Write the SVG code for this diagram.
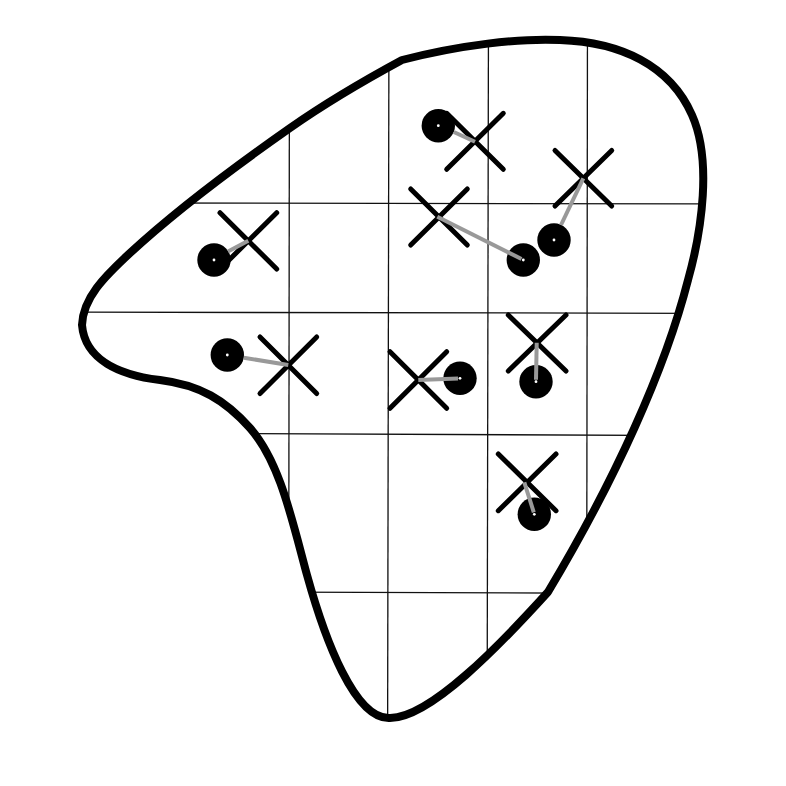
<svg xmlns="http://www.w3.org/2000/svg" width="786" height="786" viewBox="0 0 786 786">
<style>
.grid line{stroke:#111;stroke-width:1.3}
.outline{fill:none;stroke:#000;stroke-width:8;stroke-linejoin:round}
.x{stroke:#000;stroke-width:5;stroke-linecap:round}
.dot{fill:#000}
.ctr{fill:#fff}
.conn line{stroke:#999;stroke-width:4}
</style>
<defs>
<path id="blob" d="M 402 60 C 460 45, 520 38, 560 40 C 620 42, 670 65, 692 115 C 712 160, 702 230, 688 280 C 665 370, 615 480, 548 592 C 500 645, 430 718, 390 718 C 355 720, 325 640, 307 575 C 292 520, 280 462, 250 428 C 225 400, 200 385, 160 380 C 120 375, 85 360, 82 325 C 83 298, 104 277, 130 253 C 170 216, 230 170, 290 128 C 330 100, 365 80, 402 60 Z"/>
<clipPath id="clip"><use href="#blob"/></clipPath>
</defs>
<rect width="786" height="786" fill="#fff"/>
<g class="grid" clip-path="url(#clip)">
<line x1="289.5" y1="0" x2="288.5" y2="786"/>
<line x1="389" y1="0" x2="387.5" y2="786"/>
<line x1="488.5" y1="0" x2="487" y2="786"/>
<line x1="587.5" y1="0" x2="586.5" y2="786"/>
<line x1="0" y1="202.8" x2="786" y2="204"/>
<line x1="0" y1="312" x2="786" y2="313.5"/>
<line x1="0" y1="432.5" x2="786" y2="436"/>
<line x1="0" y1="591" x2="786" y2="594"/>
</g>
<use href="#blob" class="outline"/>
<g id="n1"><line class="x" x1="446.7" y1="113.3" x2="503.3" y2="169.3"/><line class="x" x1="503.3" y1="113.3" x2="446.7" y2="169.3"/><circle class="dot" cx="438.3" cy="125.7" r="16.7"/><circle class="ctr" cx="438.3" cy="125.7" r="1.4"/></g>
<g id="n2"><line class="x" x1="555" y1="150.5" x2="611.7" y2="206"/><line class="x" x1="611.7" y1="150.5" x2="555" y2="206"/><circle class="dot" cx="554" cy="240" r="16.7"/><circle class="ctr" cx="554" cy="240" r="1.4"/></g>
<g id="n3"><line class="x" x1="410.7" y1="189" x2="467.3" y2="245"/><line class="x" x1="467.3" y1="189" x2="410.7" y2="245"/><circle class="dot" cx="523.3" cy="260" r="16.7"/><circle class="ctr" cx="523.3" cy="260" r="1.4"/></g>
<g id="n4"><line class="x" x1="220" y1="212.7" x2="276.7" y2="269"/><line class="x" x1="276.7" y1="212.7" x2="220" y2="269"/><circle class="dot" cx="214" cy="260" r="16.7"/><circle class="ctr" cx="214" cy="260" r="1.4"/></g>
<g id="n5"><line class="x" x1="260" y1="337" x2="316.7" y2="393.5"/><line class="x" x1="316.7" y1="337" x2="260" y2="393.5"/><circle class="dot" cx="227.3" cy="355" r="16.7"/><circle class="ctr" cx="227.3" cy="355" r="1.4"/></g>
<g id="n6"><line class="x" x1="390" y1="351.7" x2="446.7" y2="408.3"/><line class="x" x1="446.7" y1="351.7" x2="390" y2="408.3"/><circle class="dot" cx="460" cy="378.3" r="16.7"/><circle class="ctr" cx="460" cy="378.3" r="1.4"/></g>
<g id="n7"><line class="x" x1="508.3" y1="315" x2="566" y2="371"/><line class="x" x1="566" y1="315" x2="508.3" y2="371"/><circle class="dot" cx="536" cy="381.7" r="16.7"/><circle class="ctr" cx="536" cy="381.7" r="1.4"/></g>
<g id="n8"><line class="x" x1="498.3" y1="454" x2="556" y2="510.7"/><line class="x" x1="556" y1="454" x2="498.3" y2="510.7"/><circle class="dot" cx="534.3" cy="514.3" r="16.7"/><circle class="ctr" cx="534.3" cy="514.3" r="1.4"/></g>
<g class="conn" id="connectors">
<line x1="453.8" y1="132" x2="475" y2="141.7"/>
<line x1="561" y1="225" x2="583.3" y2="178.3"/>
<line x1="521.5" y1="259" x2="437.3" y2="216.7"/>
<line x1="228" y1="251.5" x2="248.3" y2="240.7"/>
<line x1="243.8" y1="357.7" x2="288.3" y2="365"/>
<line x1="458" y1="378.4" x2="418.3" y2="380"/>
<line x1="536" y1="379.7" x2="536.7" y2="342.7"/>
<line x1="533.8" y1="512.3" x2="524.3" y2="482.3"/>
</g>
</svg>
